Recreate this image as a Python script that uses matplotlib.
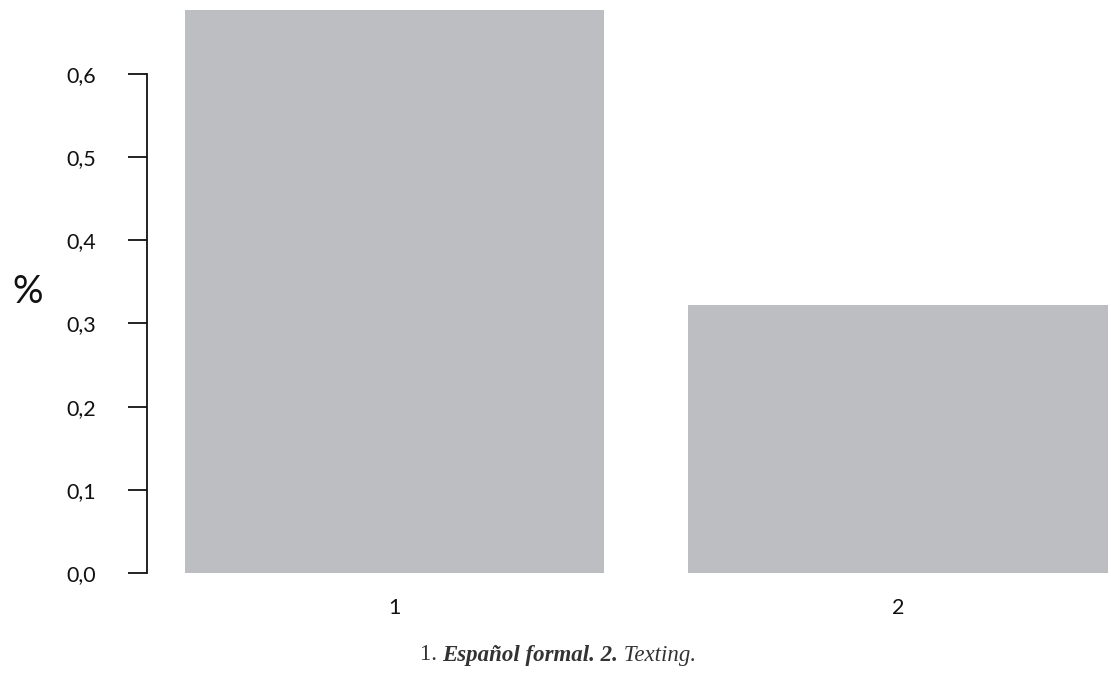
import matplotlib
matplotlib.use("Agg")
import matplotlib.pyplot as plt

categories = ["1", "2"]
values = [0.677, 0.322]
yticks = [0.0, 0.1, 0.2, 0.3, 0.4, 0.5, 0.6]
ytick_labels = ["0,0", "0,1", "0,2", "0,3", "0,4", "0,5", "0,6"]
bar_color = "#BDBEC2"

W, H = 1111, 685
fig = plt.figure(figsize=(W / 100, H / 100), dpi=100)
# axes: left spine at x=147 px, bottom (y=0) at 573 px, top at 0 px
ax = fig.add_axes([147 / W, (H - 573) / H, (W - 147) / W, 573 / H])
scale = 831.67  # px per unit y
ax.set_ylim(0, 573 / scale)
px_x = 419.5
ax.set_xlim(0.2 - 38 / px_x, 0.2 + (W - 185) / px_x)

centers = [0.7, 1.9]
ax.bar(centers, values, width=1.0, color=bar_color, clip_on=False)

for s in ["top", "right", "bottom"]:
    ax.spines[s].set_visible(False)
ax.spines["left"].set_bounds(0, 0.6)
ax.spines["left"].set_linewidth(1.3)
ax.spines["left"].set_color("#111111")
ax.set_yticks(yticks)
ax.set_yticklabels(ytick_labels, family="Lato", fontsize=15.5, color="#111111")
ax.tick_params(axis="y", length=13.7, width=1.3, color="#111111", pad=23)
ax.set_xticks(centers)
ax.set_xticklabels(categories, family="Lato", fontsize=15.5, color="#111111")
ax.tick_params(axis="x", length=0, pad=18)

fig.text(28 / W, 1 - 292 / H, "%", family="Lato", fontsize=27.5, ha="center", va="center", color="#111111")

# caption with mixed styles
parts = [("1. ", "normal", "normal"), ("Español formal. 2.", "italic", "bold"), (" Texting.", "italic", "normal")]
fig.canvas.draw()
r = fig.canvas.get_renderer()
texts = []
for s, st, wt in parts:
    t = fig.text(0, 1 - 655 / H, s, family="Liberation Serif", fontsize=16.5, style=st, weight=wt,
                 color="#333333", va="center", ha="left")
    texts.append(t)
widths = [t.get_window_extent(r).width for t in texts]
total = sum(widths)
x0 = 558 - total / 2
for t, w in zip(texts, widths):
    t.set_x(x0 / W)
    x0 += w

fig.savefig("out.png", dpi=100)
